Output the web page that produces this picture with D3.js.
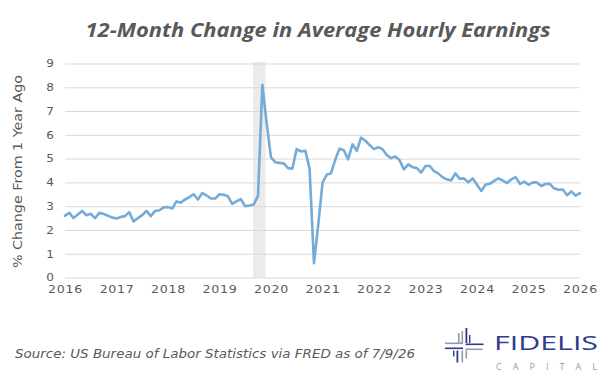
<!DOCTYPE html>
<html>
<head>
<meta charset="utf-8">
<script src="https://cdn.jsdelivr.net/npm/d3@7/dist/d3.min.js"></script>
<style>
  html, body { margin: 0; padding: 0; background: #ffffff; }
  svg { display: block; }
</style>
</head>
<body>
<div id="chart"></div>
<script>
// ---- Data ----
const startMonth = "2016-01-01";
const ahePctChange = [
  2.60, 2.72, 2.50, 2.65, 2.80, 2.62, 2.68, 2.50, 2.72, 2.67, 2.60, 2.52,
  2.48, 2.55, 2.58, 2.75, 2.36, 2.50, 2.62, 2.80, 2.58, 2.80, 2.83, 2.95,
  2.96, 2.90, 3.20, 3.15, 3.28, 3.38, 3.50, 3.28, 3.55, 3.45, 3.32, 3.32,
  3.50, 3.48, 3.42, 3.10, 3.20, 3.30, 3.00, 3.03, 3.07, 3.43, 8.10, 6.50,
  5.05, 4.85, 4.82, 4.80, 4.60, 4.58, 5.40, 5.30, 5.33, 4.57, 0.60, 2.20,
  4.00, 4.33, 4.37, 4.95, 5.42, 5.35, 4.97, 5.60, 5.33, 5.88, 5.75, 5.57,
  5.40, 5.48, 5.40, 5.15, 5.02, 5.09, 4.93, 4.55, 4.76, 4.64, 4.60, 4.41,
  4.69, 4.69, 4.48, 4.38, 4.22, 4.13, 4.08, 4.38, 4.15, 4.17, 4.00, 4.17,
  3.90, 3.64, 3.90, 3.94, 4.06, 4.17, 4.08, 3.97, 4.13, 4.22, 3.94, 4.03,
  3.90, 4.00, 4.00, 3.85, 3.93, 3.94, 3.75, 3.69, 3.70, 3.46, 3.62, 3.44,
  3.55
];
const shadedPeriod = ["2019-08-27", "2019-11-24"];
const yTicks = [0, 1, 2, 3, 4, 5, 6, 7, 8, 9];
const xTickYears = ["2016","2017","2018","2019","2020","2021","2022","2023","2024","2025","2026"];
const titleText = "12-Month Change in Average Hourly Earnings";
const yAxisTitle = "% Change From 1 Year Ago";
const sourceText = "Source: US Bureau of Labor Statistics via FRED as of 7/9/26";

// ---- Setup ----
const W = 609, H = 380;
const parse = d3.utcParse("%Y-%m-%d");
const start = parse(startMonth);
const series = ahePctChange.map((v, i) => ({ date: d3.utcMonth.offset(start, i), value: v }));

const svg = d3.select("#chart").append("svg").attr("width", W).attr("height", H);

const x = d3.scaleUtc()
  .domain([parse("2016-01-01"), parse("2026-01-01")])
  .range([65, 580]);
const y = d3.scaleLinear().domain([0, 9]).range([277.5, 63.5]);

const textColor = "#595959";
const tickFont = "DejaVu Sans, Verdana, sans-serif";

// shaded band
svg.append("rect")
  .attr("x", x(parse(shadedPeriod[0])))
  .attr("width", x(parse(shadedPeriod[1])) - x(parse(shadedPeriod[0])))
  .attr("y", y(9) - 1.5)
  .attr("height", y(0) - y(9) + 1.5)
  .attr("fill", "#ebebeb");

// gridlines via axis
const grid = svg.append("g")
  .attr("transform", `translate(65,0)`)
  .call(d3.axisLeft(y).tickValues(yTicks).tickSize(-(580 - 65)).tickFormat(""));
grid.select(".domain").remove();
grid.selectAll(".tick line").attr("stroke", "#d9d9d9").attr("stroke-width", 1);

// y tick labels via axis
const yAx = svg.append("g")
  .attr("transform", `translate(50,0)`)
  .call(d3.axisLeft(y).tickValues(yTicks).tickSize(0).tickPadding(0).tickFormat(d3.format("d")));
yAx.select(".domain").remove();
yAx.selectAll(".tick text")
  .attr("x", 0)
  .attr("text-anchor", "middle")
  .attr("fill", textColor)
  .attr("font-family", tickFont)
  .attr("font-size", "10.5px")
  .attr("transform", "scale(1.15,1)");

// x axis labels
const xAx = svg.append("g")
  .attr("transform", `translate(0,${y(0)})`)
  .call(d3.axisBottom(x)
    .tickValues(xTickYears.map(s => parse(s + "-01-01")))
    .tickSize(0).tickPadding(8)
    .tickFormat(d3.utcFormat("%Y")));
xAx.select(".domain").remove();
xAx.selectAll(".tick text")
  .attr("fill", textColor)
  .attr("font-family", tickFont)
  .attr("font-size", "10.5px")
  .attr("letter-spacing", "0.6px")
  .attr("transform", "scale(1.2,1)");

// line
const line = d3.line().x(d => x(d.date)).y(d => y(d.value));
svg.append("path")
  .datum(series)
  .attr("d", line)
  .attr("fill", "none")
  .attr("stroke", "#74abd8")
  .attr("stroke-width", 2.6)
  .attr("stroke-linejoin", "round")
  .attr("stroke-linecap", "round");

// title
svg.append("text")
  .attr("x", 318).attr("y", 37)
  .attr("text-anchor", "middle")
  .attr("font-family", "Open Sans, sans-serif")
  .attr("font-weight", 700)
  .attr("font-style", "italic")
  .attr("font-size", "20px")
  .attr("fill", textColor)
  .attr("textLength", 465)
  .attr("lengthAdjust", "spacingAndGlyphs")
  .text(titleText);

// y axis title
svg.append("text")
  .attr("transform", "translate(22,171.5) rotate(-90)")
  .attr("text-anchor", "middle")
  .attr("font-family", tickFont)
  .attr("font-size", "12.5px")
  .attr("fill", textColor)
  .attr("textLength", 193)
  .attr("lengthAdjust", "spacingAndGlyphs")
  .text(yAxisTitle);

// source
svg.append("text")
  .attr("x", 15).attr("y", 358)
  .attr("font-family", tickFont)
  .attr("font-style", "italic")
  .attr("font-size", "11.5px")
  .attr("fill", textColor)
  .attr("textLength", 400)
  .attr("lengthAdjust", "spacingAndGlyphs")
  .text(sourceText);

// logo
const logo = svg.append("g").attr("transform", "translate(445,328)");
const navy = "#2e3a8c", gray = "#8e9bb0";
const bars = [
  // [x, y, w, h, color]
  [13, 5, 1.6, 10, gray], [16.5, 3, 1.6, 12, gray], [20.5, 0, 1.8, 15, navy], [24, 7, 1.4, 8, navy],
  [0, 14.5, 18, 1.6, gray], [20.5, 15.5, 18, 1.6, navy],
  [0, 19.5, 18, 1.6, navy], [20.5, 20.5, 17, 1.6, gray],
  [8, 22.5, 1.4, 6, navy], [11.5, 22.5, 1.8, 12, navy], [16.5, 22.5, 1.6, 12, gray], [20.5, 22.5, 1.6, 8, gray]
];
logo.selectAll("rect").data(bars).join("rect")
  .attr("x", d => d[0]).attr("y", d => d[1]).attr("width", d => d[2]).attr("height", d => d[3])
  .attr("fill", d => d[4]);
svg.append("text")
  .attr("x", 494).attr("y", 350)
  .attr("font-family", "Open Sans, sans-serif")
  .attr("font-size", "19.5px")
  .attr("fill", navy)
  .attr("textLength", 104)
  .attr("lengthAdjust", "spacingAndGlyphs")
  .text("FIDELIS");
svg.append("text")
  .attr("x", 496).attr("y", 370)
  .attr("font-family", "Open Sans, sans-serif")
  .attr("font-size", "9px")
  .attr("fill", gray)
  .attr("textLength", 101)
  .attr("lengthAdjust", "spacing")
  .text("CAPITAL");
</script>
</body>
</html>
